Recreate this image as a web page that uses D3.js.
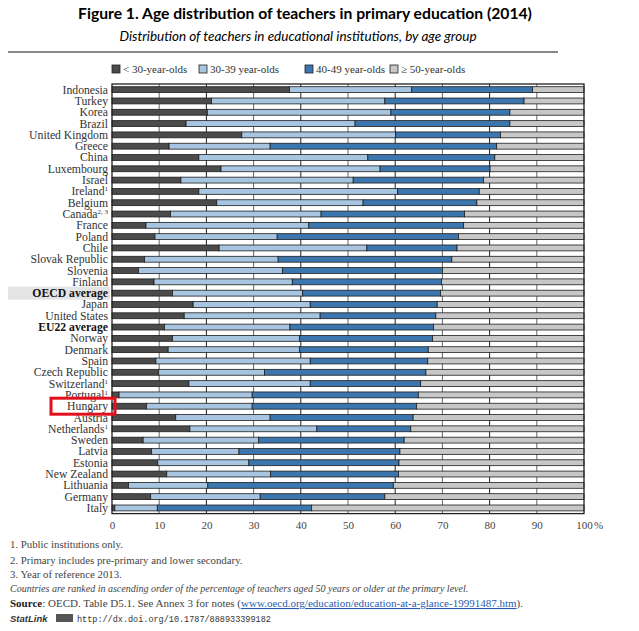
<!DOCTYPE html>
<html>
<head>
<meta charset="utf-8">
<script src="https://cdn.jsdelivr.net/npm/d3@7"></script>
<style>
  body { margin: 0; background: #fff; }
  svg { display: block; }
</style>
</head>
<body>
<script>
// countries, top to bottom (ascending share of teachers aged 50+)
var countries = ["Indonesia","Turkey","Korea","Brazil","United Kingdom","Greece","China","Luxembourg","Israel","Ireland",
  "Belgium","Canada","France","Poland","Chile","Slovak Republic","Slovenia","Finland","OECD average","Japan",
  "United States","EU22 average","Norway","Denmark","Spain","Czech Republic","Switzerland","Portugal","Hungary","Austria",
  "Netherlands","Sweden","Latvia","Estonia","New Zealand","Lithuania","Germany","Italy"];
var notes = {"Ireland":"1","Canada":"2, 3","Switzerland":"1","Portugal":"1","Netherlands":"1"};
var bold = ["OECD average","EU22 average"];

// percentages per age group, same order as countries
var under30 = [37.6,21.1,20.2,15.7,27.5,12.1,18.4,23.1,14.6,18.4,
  22.2,12.4,7.2,9.1,22.7,6.9,5.6,8.9,12.8,17.2,
  15.3,11.1,12.8,11.9,9.3,9.9,16.3,1.5,7.3,13.5,
  16.5,6.6,8.4,9.7,11.6,3.5,8.2,0.6];
var age30to39 = [25.9,36.7,38.9,35.8,32.6,21.4,35.8,33.7,36.5,42.1,
  31.0,31.9,34.5,25.9,31.3,28.3,30.5,29.3,27.6,24.8,
  28.8,26.6,26.9,27.8,32.7,22.4,25.7,28.2,22.4,20.0,
  26.9,24.5,18.5,19.3,22.0,16.8,23.2,9.0];
var age40to49 = [25.6,29.5,25.2,32.8,22.2,48.0,26.9,23.3,27.6,17.3,
  24.1,30.4,32.8,38.4,19.1,36.8,33.9,31.6,29.2,26.9,
  24.5,30.4,28.2,27.3,24.9,34.2,23.4,35.2,34.8,30.3,
  19.9,30.8,34.1,31.8,27.1,39.3,26.4,32.7];
var age50plus = [10.9,12.7,15.7,15.7,17.7,18.5,18.9,19.9,21.3,22.2,
  22.7,25.3,25.5,26.6,26.9,28.0,30.0,30.2,30.4,31.1,
  31.4,31.9,32.1,33.0,33.1,33.5,34.6,35.1,35.5,36.2,
  36.7,38.1,39.0,39.2,39.3,40.4,42.2,57.7];

var groups = ["< 30-year-olds","30-39 year-olds","40-49 year-olds","\u2265 50-year-olds"];
var colors = ["#4b4b4b","#a7c5e0","#3b77ae","#c7c7c7"];
var ticks = [0,10,20,30,40,50,60,70,80,90,100];

var W = 639, H = 631;
var svg = d3.select("body").append("svg").attr("width", W).attr("height", H);

var serif = "'Liberation Serif', 'DejaVu Serif', serif";

svg.append("text").attr("x", 305).attr("y", 19).attr("text-anchor","middle")
  .style("font-family","Lato, 'Open Sans', sans-serif").style("font-weight","bold").style("font-size","15.7px")
  .text("Figure 1. Age distribution of teachers in primary education (2014)");
svg.append("text").attr("x", 298).attr("y", 41).attr("text-anchor","middle")
  .style("font-family","Lato, 'Open Sans', sans-serif").style("font-style","italic").style("font-size","13.5px")
  .text("Distribution of teachers in educational institutions, by age group");
svg.append("line").attr("x1",8).attr("x2",558).attr("y1",52).attr("y2",52)
  .attr("stroke","#111").attr("stroke-width",1.2);

// legend
var legX = [112,199,305,390];
var leg = svg.append("g").selectAll("g").data(groups).join("g")
  .attr("transform", function(d,i){ return "translate(" + legX[i] + ",65)"; });
leg.append("rect").attr("width",8).attr("height",8)
  .attr("fill", function(d,i){ return colors[i]; }).attr("stroke","#222").attr("stroke-width",0.8);
leg.append("text").attr("x",11).attr("y",8)
  .style("font-family",serif).style("font-size","11px").attr("fill","#333")
  .text(function(d){ return d; });

// build rows
var rows = countries.map(function(c,i){
  return {name:c, vals:[under30[i],age30to39[i],age40to49[i],age50plus[i]]};
});

var x = d3.scaleLinear().domain([0,100]).range([112,584]);
var y = d3.scaleBand().domain(countries).range([84,513.6]).paddingInner(0.48).paddingOuter(0.24);

// OECD average highlight band
svg.append("rect").attr("x",8).attr("width",102)
  .attr("y", y("OECD average") + y.bandwidth()/2 - 6.5).attr("height",13).attr("fill","#e4e4e4");

// vertical grid
svg.append("g").selectAll("line").data(ticks.slice(1,-1)).join("line")
  .attr("x1", function(d){ return x(d); }).attr("x2", function(d){ return x(d); })
  .attr("y1",84).attr("y2",513.6)
  .attr("stroke", function(d){ return d % 20 === 0 ? "#222" : "#666"; }).attr("stroke-width",1);

// stacked bars
var rg = svg.append("g").selectAll("g").data(rows).join("g");
rg.selectAll("rect").data(function(d){
    var acc = 0;
    return d.vals.map(function(v,k){ var s = acc; acc += v; return {name:d.name, x0:s, x1:acc, k:k}; });
  }).join("rect")
  .attr("x", function(d){ return x(d.x0); })
  .attr("width", function(d){ return Math.max(0, x(Math.min(d.x1,100)) - x(d.x0)); })
  .attr("y", function(d){ return y(d.name); })
  .attr("height", y.bandwidth())
  .attr("fill", function(d){ return colors[d.k]; })
  .attr("stroke","#1e1e1e").attr("stroke-width",0.8);

// frame
svg.append("rect").attr("x",x(0)).attr("y",84).attr("width",x(100)-x(0)).attr("height",513.6-84)
  .attr("fill","none").attr("stroke","#222").attr("stroke-width",1.3);

// country labels
var lab = svg.append("g").selectAll("text").data(countries).join("text")
  .attr("x",108).attr("y", function(d){ return y(d) + y.bandwidth()/2 + 4; })
  .attr("text-anchor","end")
  .style("font-family",serif).style("font-size","11.7px")
  .style("font-weight", function(d){ return bold.indexOf(d) >= 0 ? "bold" : "normal"; })
  .attr("fill", function(d){ return bold.indexOf(d) >= 0 ? "#111" : "#333"; });
lab.append("tspan").text(function(d){ return d; });
lab.filter(function(d){ return notes[d]; }).append("tspan")
  .attr("dy",-4).style("font-size","7px").text(function(d){ return notes[d]; });

// x axis
var ax = svg.append("g").attr("transform","translate(0,518)")
  .call(d3.axisBottom(x).tickValues(ticks).tickSize(0).tickFormat(function(d){ return d; }));
ax.select(".domain").remove();
ax.selectAll("text").style("font-family",serif).style("font-size","11px").attr("fill","#444");
svg.append("text").attr("x", x(100) + 10).attr("y", 529)
  .style("font-family",serif).style("font-size","11px").attr("fill","#444").text("%");

// highlight box for Hungary
svg.append("rect").attr("x",51).attr("y", y("Hungary") + y.bandwidth()/2 - 8).attr("width",64).attr("height",16)
  .attr("fill","none").attr("stroke","#e3101b").attr("stroke-width",3);

// footnotes
var fn = [
  {t:"1. Public institutions only.", y:548, fs:10.8},
  {t:"2. Primary includes pre-primary and lower secondary.", y:564, fs:10.8},
  {t:"3. Year of reference 2013.", y:578, fs:10.8},
  {t:"Countries are ranked in ascending order of the percentage of teachers aged 50 years or older at the primary level.", y:592, it:true, fs:10}
];
svg.append("g").selectAll("text").data(fn).join("text")
  .attr("x",10).attr("y", function(d){ return d.y; })
  .style("font-family",serif).style("font-size", function(d){ return d.fs + "px"; }).attr("fill","#444")
  .style("font-style", function(d){ return d.it ? "italic" : "normal"; })
  .text(function(d){ return d.t; });

var src = svg.append("text").attr("x",10).attr("y",607)
  .style("font-family",serif).style("font-size","11px").attr("fill","#444");
src.append("tspan").style("font-weight","bold").attr("fill","#222").text("Source");
src.append("tspan").text(": OECD. Table D5.1. See Annex 3 for notes (");
src.append("tspan").attr("fill","#2a5db0").style("text-decoration","underline")
  .text("www.oecd.org/education/education-at-a-glance-19991487.htm");
src.append("tspan").text(").");

svg.append("text").attr("x",10).attr("y",622)
  .style("font-family","'Liberation Sans', sans-serif").style("font-size","9.5px")
  .style("font-weight","bold").style("font-style","italic").attr("fill","#333").text("StatLink");
svg.append("rect").attr("x",56).attr("y",614).attr("width",17).attr("height",8).attr("fill","#555");
svg.append("text").attr("x",77).attr("y",622)
  .style("font-family","'Liberation Mono', monospace").style("font-size","8.5px").attr("fill","#333")
  .text("http://dx.doi.org/10.1787/888933399182");
</script>
</body>
</html>
